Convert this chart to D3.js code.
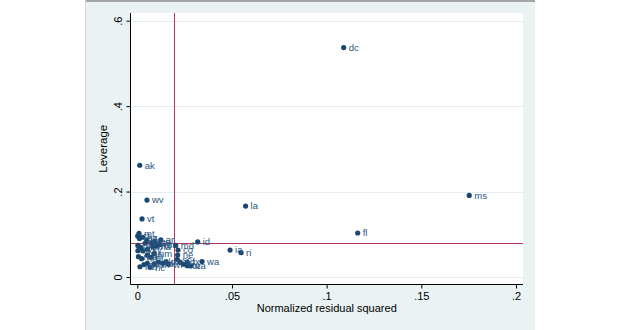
<!DOCTYPE html>
<html lang="en">
    <head>
        <meta charset="utf-8">
        <title>Leverage vs residual squared</title>
        <script src="https://d3js.org/d3.v7.min.js"></script>
        <style type="text/css">
            body { margin: 0; background: white; }
            text { font-family: "Liberation Sans", Arial, sans-serif; }
            .axis path { display: none; }
            .axis line { stroke: #000; }
            .axis text { font-size: 11px; fill: #000; }
        </style>
    </head>
    <body>
        <script type="text/javascript">

            //Declaring constants
            const w = 620;
            const h = 330;

            //Data: state labels, normalized residual squared, leverage
            const states = ["dc", "ms", "ak", "wv", "la", "vt", "fl", "ia", "ri", "id", "wa",
                            "mt", "md", "co", "ar", "ne", "nc", "al", "ct", "me", "az",
                            "ca", "de", "ga", "hi", "il", "in", "ks", "ky", "ma", "mi",
                            "mn", "mo", "nd", "nh", "nj", "nm", "nv", "ny", "oh", "ok",
                            "or", "pa", "sc", "sd", "tn", "tx", "ut", "va", "wi", "wy"];

            const residSq = [0.109, 0.1753, 0.0013, 0.0051, 0.0572, 0.0025, 0.1164, 0.049, 0.0548, 0.0319, 0.0342,
                             0.0009, 0.0203, 0.0215, 0.0124, 0.0213, 0.0067, 0.0053, 0.0002, 0.0011, 0.0028,
                             0.005, 0.0076, 0.0093, 0.0003, 0.0018, 0.0003, 0.0029, 0.0053, 0.0081, 0.0099,
                             0.0116, 0.0006, 0.0023, 0.0053, 0.0071, 0.0088, 0.0014, 0.0035, 0.0088, 0.0111,
                             0.0134, 0.0152, 0.0211, 0.0226, 0.0243, 0.0264, 0.0264, 0.0282, 0.0164, 0.0041];

            const leverage = [0.537, 0.191, 0.2616, 0.180, 0.166, 0.136, 0.103, 0.063, 0.057, 0.082, 0.036,
                              0.102, 0.074, 0.063, 0.0867, 0.0515, 0.0227, 0.032, 0.096, 0.090, 0.093,
                              0.085, 0.080, 0.0835, 0.074, 0.0695, 0.0616, 0.0616, 0.065, 0.071, 0.0726,
                              0.0757, 0.0476, 0.043, 0.051, 0.046, 0.054, 0.024, 0.029, 0.030, 0.035,
                              0.032, 0.036, 0.0414, 0.035, 0.030, 0.035, 0.0265, 0.0258, 0.0297, 0.079];

            //reference lines: mean residual squared (1/N) and mean leverage (k/N)
            const meanResid = 1 / 51;
            const meanLev = 4 / 51;

            const xTicks = [0, 0.05, 0.1, 0.15, 0.2];
            const xTickLabels = ["0", ".05", ".1", ".15", ".2"];
            const yTicks = [0, 0.2, 0.4, 0.6];
            const yTickLabels = ["0", ".2", ".4", ".6"];

            const data = states.map((s, i) => ({state: s, x: residSq[i], y: leverage[i]}));

            //plot region
            const plotL = 130.5, plotR = 523, plotT = 13, plotB = 284.5;
            const refColor = "#b3365f";

            //scales
            const xScale = d3.scaleLinear()
                                .domain([0, 0.2])
                                .range([137.3, 516]);

            const yScale = d3.scaleLinear()
                                .domain([0, 0.6])
                                .range([277, 20.7]);

            //SVG elements
            const svg = d3.select("body")
                    .append("svg")
                    .attr("width", w)
                    .attr("height", h);

            //graph region background
            svg.append("rect")
                .attr("x", 85)
                .attr("y", 0)
                .attr("width", 450)
                .attr("height", h)
                .attr("fill", "#eaf2f3");

            svg.append("line")
                .attr("x1", 85).attr("x2", 535)
                .attr("y1", 1).attr("y2", 1)
                .attr("stroke", "#a4a4a4")
                .attr("stroke-width", 2);

            svg.append("line")
                .attr("x1", 85.5).attr("x2", 85.5)
                .attr("y1", 0).attr("y2", h)
                .attr("stroke", "#d0d6d8");

            //plot region
            svg.append("rect")
                .attr("x", plotL)
                .attr("y", plotT)
                .attr("width", plotR - plotL)
                .attr("height", plotB - plotT)
                .attr("fill", "white");

            //gridlines
            svg.append("g")
                .selectAll("line")
                .data(yTicks)
                .join("line")
                .attr("x1", plotL)
                .attr("x2", plotR)
                .attr("y1", d => Math.round(yScale(d)) + 0.5)
                .attr("y2", d => Math.round(yScale(d)) + 0.5)
                .attr("stroke", "#e4edef")
                .attr("stroke-width", 1);

            //reference lines
            const vx = Math.round(xScale(meanResid)) + 0.5;
            const hy = Math.round(yScale(meanLev)) + 0.5;

            svg.append("line")
                .attr("x1", vx).attr("x2", vx)
                .attr("y1", plotT).attr("y2", plotB)
                .attr("stroke", refColor)
                .attr("stroke-width", 1);

            svg.append("line")
                .attr("x1", plotL).attr("x2", plotR)
                .attr("y1", hy).attr("y2", hy)
                .attr("stroke", refColor)
                .attr("stroke-width", 1);

            //points
            svg.append("g")
                .selectAll("circle")
                .data(data)
                .join("circle")
                .attr("cx", d => xScale(d.x))
                .attr("cy", d => yScale(d.y))
                .attr("r", 2.6)
                .attr("fill", "#1a476f");

            //point labels
            svg.append("g")
                .selectAll("text")
                .data(data)
                .join("text")
                .attr("x", d => xScale(d.x) + 5)
                .attr("y", d => yScale(d.y))
                .attr("dy", "0.35em")
                .attr("font-size", "9.5px")
                .attr("fill", "#2a5580")
                .text(d => d.state);

            //bottom axis
            const bottomAxis = d3.axisBottom(xScale)
                                .tickValues(xTicks)
                                .tickFormat((d, i) => xTickLabels[i])
                                .tickSize(4)
                                .tickPadding(4);

            svg.append("g")
                .attr("class", "axis")
                .attr("transform", "translate(0," + plotB + ")")
                .call(bottomAxis);

            svg.append("line")
                .attr("x1", plotL).attr("x2", plotR)
                .attr("y1", plotB).attr("y2", plotB)
                .attr("stroke", "#000");

            //left axis, labels turned like Stata
            const leftAxis = d3.axisLeft(yScale)
                                .tickValues(yTicks)
                                .tickFormat((d, i) => yTickLabels[i])
                                .tickSize(4);

            svg.append("g")
                .attr("class", "axis")
                .attr("transform", "translate(" + plotL + ",0)")
                .call(leftAxis)
                .selectAll("text")
                .attr("text-anchor", "middle")
                .attr("x", 0)
                .attr("y", -9)
                .attr("dy", null)
                .attr("transform", "rotate(-90)");

            svg.append("line")
                .attr("x1", plotL).attr("x2", plotL)
                .attr("y1", plotT).attr("y2", plotB)
                .attr("stroke", "#000");

            //axis titles
            svg.append("text")
                .attr("x", (plotL + plotR) / 2)
                .attr("y", 312)
                .attr("text-anchor", "middle")
                .attr("font-size", "11px")
                .attr("fill", "#000")
                .text("Normalized residual squared");

            svg.append("text")
                .attr("transform", "translate(107," + ((plotT + plotB) / 2) + ") rotate(-90)")
                .attr("text-anchor", "middle")
                .attr("font-size", "11.5px")
                .attr("fill", "#000")
                .text("Leverage");

        </script>
    </body>
</html>
